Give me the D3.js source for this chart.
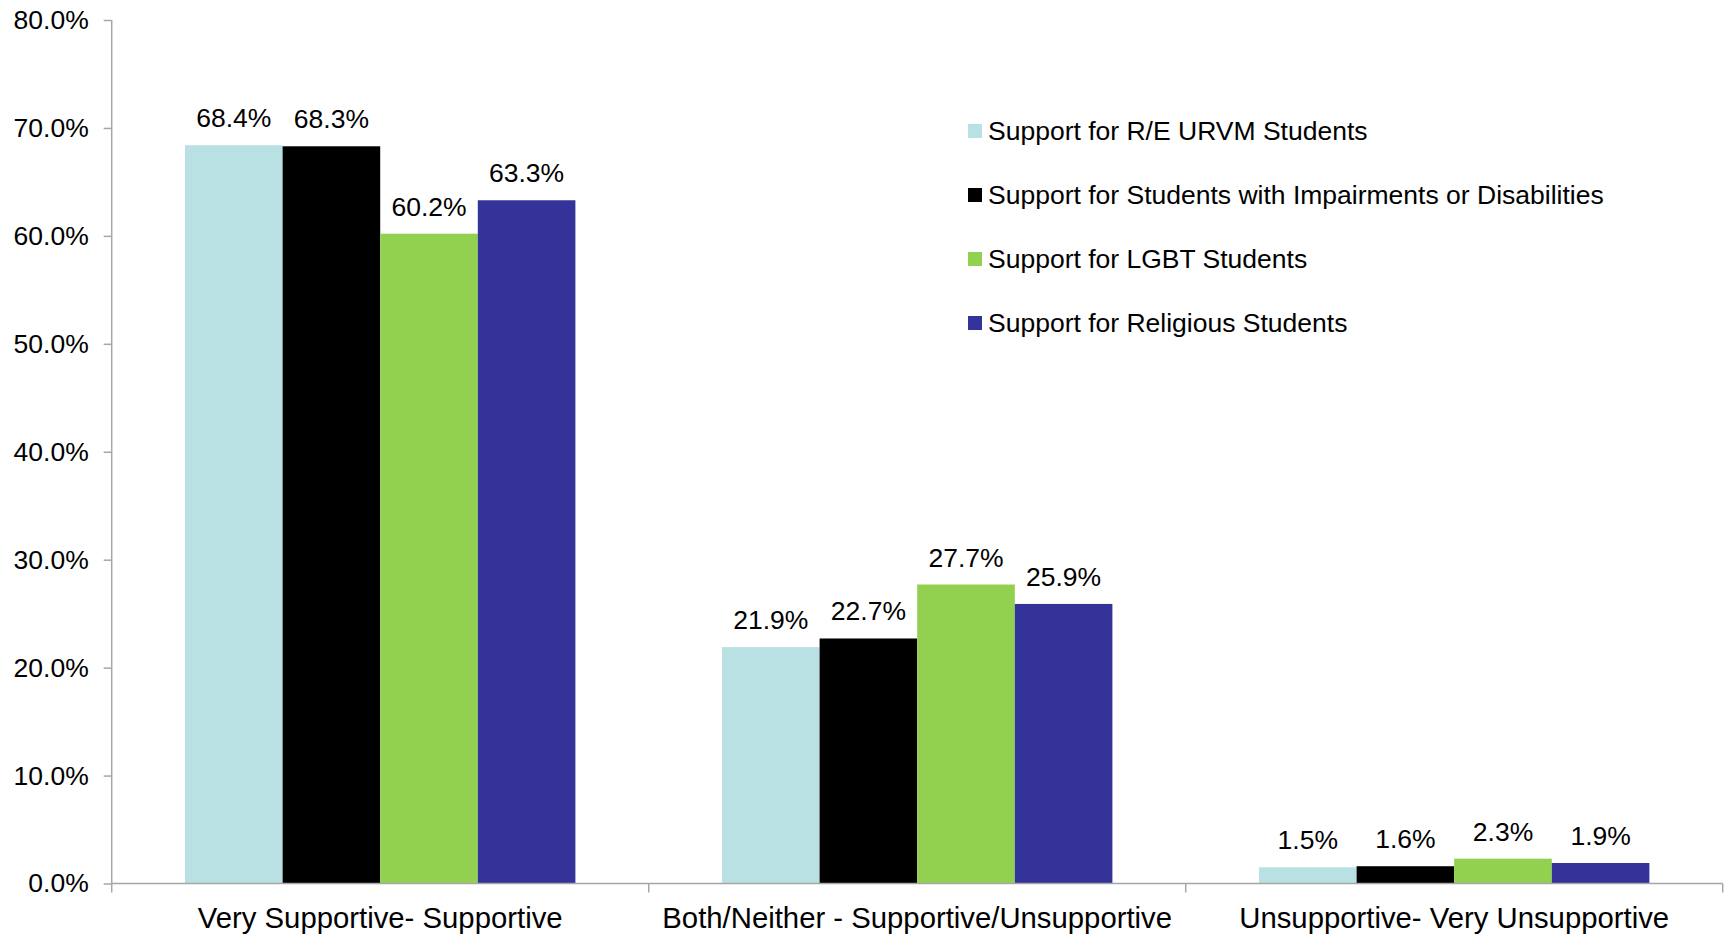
<!DOCTYPE html>
<html>
<head>
<meta charset="utf-8">
<script src="https://cdn.jsdelivr.net/npm/d3@7"></script>
<style>
  html, body { margin: 0; padding: 0; background: #ffffff; }
  svg { display: block; font-family: "Liberation Sans", Arial, sans-serif; }
</style>
</head>
<body>
<svg id="chart" width="1725" height="937"></svg>
<script>
// Response categories along the x axis
const categories = [
  "Very Supportive- Supportive",
  "Both/Neither - Supportive/Unsupportive",
  "Unsupportive- Very Unsupportive"
];

// One series per student group (percent)
const seriesNames = [
  "Support for R/E URVM Students",
  "Support for Students with Impairments or Disabilities",
  "Support for LGBT Students",
  "Support for Religious Students"
];
const reUrvm       = [68.4, 21.9, 1.5];
const disabilities = [68.3, 22.7, 1.6];
const lgbt         = [60.2, 27.7, 2.3];
const religious    = [63.3, 25.9, 1.9];
const seriesValues = [reUrvm, disabilities, lgbt, religious];

const seriesColors = ["#b9e0e3", "#000000", "#92d050", "#333399"];

// Y axis ticks
const yTicks = [0, 10, 20, 30, 40, 50, 60, 70, 80];

const svg = d3.select("#chart");
const margin = { left: 111.7, right: 2.3, top: 20, bottom: 53.5 };
const W = 1725, H = 937;

const x0 = d3.scaleBand()
  .domain(categories)
  .range([margin.left, W - margin.right])
  .paddingInner(0)
  .paddingOuter(0);

const groupPad = 0.1365; // fraction of band left empty on each side
const x1 = d3.scaleBand()
  .domain(d3.range(seriesNames.length))
  .range([x0.bandwidth() * groupPad, x0.bandwidth() * (1 - groupPad)])
  .padding(0);

const y = d3.scaleLinear()
  .domain([0, 80])
  .range([H - margin.bottom, margin.top]);

const axisColor = "#a6a6a6";
const fmt = d3.format(".1f");
const textSize = 26.5;

// Bars
const groups = svg.append("g")
  .selectAll("g")
  .data(categories)
  .join("g")
  .attr("transform", d => `translate(${x0(d)},0)`);

groups.selectAll("rect")
  .data((d, ci) => seriesValues.map((vals, si) => ({ si, v: vals[ci] })))
  .join("rect")
  .attr("x", d => x1(d.si))
  .attr("width", x1.bandwidth())
  .attr("y", d => y(d.v))
  .attr("height", d => y(0) - y(d.v))
  .attr("fill", d => seriesColors[d.si]);

// Value labels
groups.selectAll("text.val")
  .data((d, ci) => seriesValues.map((vals, si) => ({ si, v: vals[ci] })))
  .join("text")
  .attr("class", "val")
  .attr("x", d => x1(d.si) + x1.bandwidth() / 2)
  .attr("y", d => y(d.v) - 18)
  .attr("text-anchor", "middle")
  .attr("font-size", textSize)
  .attr("fill", "#000")
  .text(d => fmt(d.v) + "%");

// Y axis
const yAxis = d3.axisLeft(y)
  .tickValues(yTicks)
  .tickSize(8)
  .tickPadding(15)
  .tickFormat(d => fmt(d) + "%");

const gy = svg.append("g")
  .attr("transform", `translate(${margin.left},0)`)
  .call(yAxis);
gy.select(".domain").attr("stroke", axisColor).attr("stroke-width", 1.5)
  .attr("d", `M0,${y(80)}V${y(0)}`);
gy.selectAll(".tick line").attr("stroke", axisColor).attr("stroke-width", 1.5);
gy.selectAll(".tick text")
  .attr("font-size", textSize)
  .attr("fill", "#000")
  .attr("font-family", "Liberation Sans, Arial, sans-serif");

// X axis with ticks at category boundaries
const boundaries = categories.map(c => x0(c)).concat([x0.range()[1]]);
const gx = svg.append("g")
  .attr("transform", `translate(0,${y(0)})`);
gx.append("line")
  .attr("x1", margin.left).attr("x2", x0.range()[1])
  .attr("stroke", axisColor).attr("stroke-width", 1.5);
gx.selectAll("line.tk")
  .data(boundaries)
  .join("line")
  .attr("class", "tk")
  .attr("x1", d => d).attr("x2", d => d)
  .attr("y1", 0).attr("y2", 9)
  .attr("stroke", axisColor).attr("stroke-width", 1.5);
gx.selectAll("text")
  .data(categories)
  .join("text")
  .attr("x", d => x0(d) + x0.bandwidth() / 2)
  .attr("y", 44)
  .attr("text-anchor", "middle")
  .attr("font-size", 29.3)
  .attr("fill", "#000")
  .text(d => d);

// Legend
const legend = svg.append("g")
  .attr("transform", "translate(968,131)");
const rows = legend.selectAll("g")
  .data(seriesNames)
  .join("g")
  .attr("transform", (d, i) => `translate(0,${i * 64})`);
rows.append("rect")
  .attr("x", 0).attr("y", -7)
  .attr("width", 14).attr("height", 14)
  .attr("fill", (d, i) => seriesColors[i]);
rows.append("text")
  .attr("x", 20)
  .attr("y", 0)
  .attr("dy", "0.35em")
  .attr("font-size", textSize)
  .attr("fill", "#000")
  .text(d => d);
</script>
</body>
</html>
